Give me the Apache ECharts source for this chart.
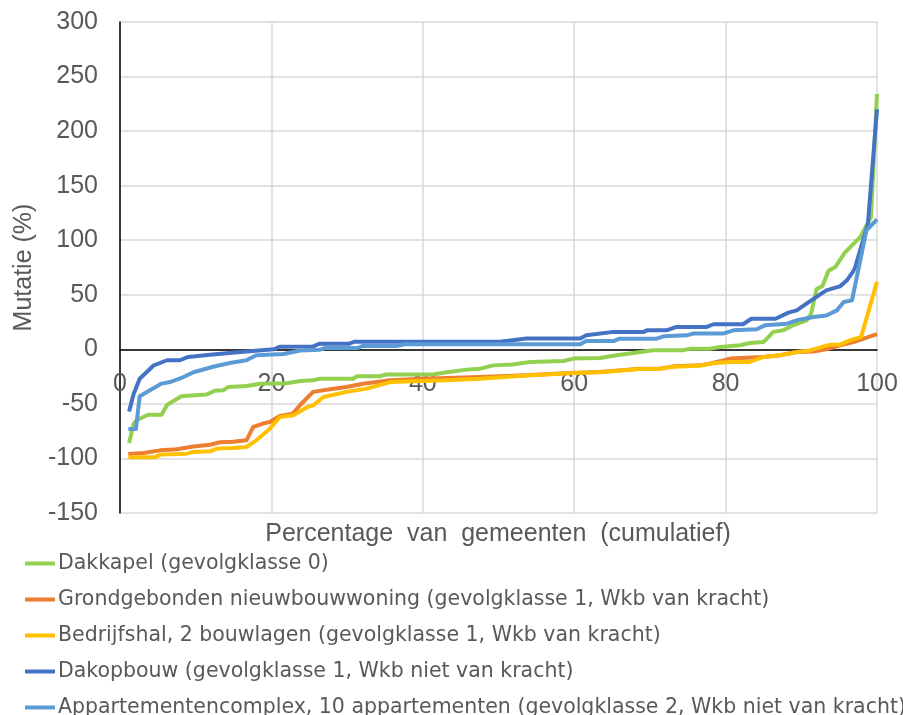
<!DOCTYPE html>
<html>
<head>
<meta charset="utf-8">
<script src="https://cdn.jsdelivr.net/npm/echarts@6/dist/echarts.min.js"></script>
<style>
  html, body { margin: 0; padding: 0; background: #fff; }
  #chart { width: 903px; height: 715px; }
</style>
</head>
<body>
<div id="chart"></div>
<script>
// [percentage van gemeenten, mutatie %]
const dakkapel = [
  [1.2, -86], [1.8, -68], [2.2, -65], [3.7, -60], [5.5, -60], [6.2, -51], [8.1, -43], [9.9, -42],
  [11.4, -41.5], [12.5, -38], [13.6, -37.6], [14.3, -34.5], [16.7, -33.6], [18.5, -31.5], [22, -31],
  [23.8, -29], [25.5, -28.4], [26.4, -27], [30.8, -27], [31.3, -24.7], [34.3, -24.7], [35.2, -23],
  [41.3, -23], [43.2, -21], [45.8, -18.6], [47.6, -17.7], [49.3, -14.7], [51.9, -13.8], [54.2, -11.6],
  [58.6, -10.7], [59.9, -8.5], [63.4, -7.9], [65.6, -5.5], [67.8, -3.4], [70.4, -0.9], [74.4, -0.9],
  [75.3, 0.6], [77.9, 0.6], [79.3, 2.1], [81.9, 3.7], [83.2, 5.8], [85, 6.7], [86.3, 16], [87.6, 17.4],
  [88.9, 22], [90.7, 26.6], [91.3, 32.7], [92, 55], [92.8, 58], [93.6, 72], [94.5, 75.5], [95.8, 89],
  [97.8, 103], [99.2, 121], [100, 234]
];
const grondgebonden = [
  [1.1, -96], [3.1, -95], [5.3, -92.6], [7.5, -91.6], [9.7, -89], [11.9, -87.4], [13.2, -85.2],
  [14.9, -84.6], [16.7, -83.4], [17.6, -71], [18.9, -68], [19.8, -66.6], [21.1, -61], [22.8, -59],
  [23.8, -51], [25.5, -39], [27.3, -37], [29.9, -34.5], [32.1, -31.5], [35.7, -28.4], [40, -27],
  [47.5, -25.4], [53.7, -23.8], [59.4, -21.7], [63.4, -20.8], [68.7, -17.7], [71.3, -17.7],
  [73.1, -15.6], [76.6, -14.7], [78.3, -12.5], [80.6, -8.5], [85, -7], [87.2, -5.5], [89.4, -2.4],
  [91.6, -2], [93.3, 0], [95.1, 3.7], [96.9, 6.7], [99.5, 12.8], [100, 14]
];
const bedrijfshal = [
  [1.1, -99], [4.6, -99], [5.3, -96.5], [8.8, -95.6], [9.7, -94], [11.9, -93.5], [12.8, -91],
  [14.9, -90.4], [16.7, -89.5], [18, -83.4], [19.8, -72.7], [21.1, -62], [22.9, -60.5], [24.7, -53],
  [25.5, -51.3], [26.9, -43.7], [29.9, -39], [32.6, -36], [35.7, -30], [43.2, -28.4], [47.5, -27],
  [53.7, -24], [59.4, -22], [63.4, -21], [68.7, -18], [71.3, -18], [73.1, -16], [76.6, -15],
  [78.3, -12.8], [80.6, -11.6], [83.2, -11.6], [85, -7], [87.2, -5.5], [89.4, -2.4], [91.1, -1],
  [93.8, 4.3], [95.1, 4.3], [96.4, 8.2], [97.9, 11.3], [100, 62]
];
const dakopbouw = [
  [1.2, -57], [1.8, -41], [2.6, -27], [4.4, -15], [6.2, -10], [7.9, -10], [9, -7], [11.9, -5],
  [15.9, -2.4], [20.3, 0], [21.1, 2.4], [25.5, 2.7], [26.4, 5.2], [30.3, 5.2], [31, 7], [50.2, 7],
  [53.7, 10], [60.8, 10], [61.6, 13], [65.2, 16], [69.2, 16], [69.6, 17.4], [72.2, 17.4], [73.5, 20.5],
  [77.5, 20.5], [78.4, 23], [82.3, 23], [83.4, 28], [86.6, 28], [88.3, 33.6], [89.4, 35.7], [90.3, 40],
  [92, 48], [93.3, 54], [95.1, 57.7], [96, 63], [96.9, 72], [97.1, 75], [98.8, 115], [100, 220]
];
const appartementen = [
  [1.1, -73], [2.1, -73], [2.6, -43], [5.5, -31.4], [6.6, -30], [8.4, -25.4], [9.7, -21], [12.3, -16],
  [14.5, -12.5], [16.7, -10], [18, -5.5], [21.6, -4.3], [23.8, -1], [26.4, -0.3], [27.1, 1.2],
  [31.3, 1.2], [32.1, 3.1], [36.5, 3.1], [37.6, 4.7], [60.8, 4.7], [61.6, 7.6], [65.2, 7.6], [66, 9.8],
  [70.9, 9.8], [71.8, 11.9], [74.9, 12.8], [75.7, 14.4], [79.7, 14.4], [81, 17.4], [84.1, 18.4],
  [85.2, 22], [88.1, 23.5], [89.4, 26.6], [91.6, 29.6], [93.3, 31], [94.7, 35.7], [95.6, 43.4],
  [96.7, 45], [97.8, 82], [98.6, 109], [100, 119]
];

const seriesNames = [
  'Dakkapel (gevolgklasse 0)',
  'Grondgebonden nieuwbouwwoning (gevolgklasse 1, Wkb van kracht)',
  'Bedrijfshal, 2 bouwlagen (gevolgklasse 1, Wkb van kracht)',
  'Dakopbouw (gevolgklasse 1, Wkb niet van kracht)',
  'Appartementencomplex, 10 appartementen (gevolgklasse 2, Wkb niet van kracht)'
];
const seriesData = [dakkapel, grondgebonden, bedrijfshal, dakopbouw, appartementen];
const colors = ['#92d050', '#ed7d31', '#ffc000', '#4472c4', '#5b9bd5'];

const font = 'Arial, "Liberation Sans", sans-serif';
const textColor = '#595959';

const myChart = echarts.init(document.getElementById('chart'));

const option = {
  animation: false,
  color: colors,
  grid: { left: 120, right: 26, top: 22, bottom: 202 },
  legend: {
    orient: 'vertical',
    left: 20,
    top: 548,
    height: 200,
    icon: 'rect',
    itemWidth: 30,
    itemHeight: 4,
    itemGap: 15,
    textStyle: { fontSize: 20.5, color: textColor, fontFamily: '"DejaVu Sans", sans-serif', padding: [0, 0, 0, -2] },
    data: seriesNames
  },
  xAxis: {
    type: 'value',
    min: 0,
    max: 100,
    interval: 20,
    axisLine: { onZero: true, lineStyle: { color: '#000', width: 1.5 } },
    axisTick: { show: false },
    // labels sit just under the zero line, like the original
    axisLabel: { fontSize: 25, color: textColor, fontFamily: font, margin: -141 },
    splitLine: { show: true, lineStyle: { color: '#d9d9d9', width: 1.5 } }
  },
  yAxis: {
    type: 'value',
    min: -150,
    max: 300,
    interval: 50,
    name: 'Mutatie (%)',
    nameLocation: 'middle',
    nameGap: 82,
    nameTextStyle: { fontSize: 25, color: textColor, fontFamily: font },
    axisLine: { show: true, onZero: false, lineStyle: { color: '#000', width: 1.5 } },
    axisTick: { show: false },
    axisLabel: { fontSize: 25, color: textColor, fontFamily: font, margin: 22 },
    splitLine: { show: true, lineStyle: { color: '#d9d9d9', width: 1.5 } }
  },
  graphic: [{
    type: 'text',
    style: {
      text: 'Percentage  van  gemeenten  (cumulatief)',
      x: 498,
      y: 534,
      align: 'center',
      verticalAlign: 'middle',
      fontSize: 25,
      fill: textColor,
      fontFamily: font
    }
  }],
  series: seriesData.map((d, i) => ({
    name: seriesNames[i],
    type: 'line',
    data: d,
    showSymbol: false,
    symbol: 'none',
    lineStyle: { width: 4, color: colors[i], join: 'round' },
    itemStyle: { color: colors[i] }
  }))
};

myChart.setOption(option);
</script>
</body>
</html>
